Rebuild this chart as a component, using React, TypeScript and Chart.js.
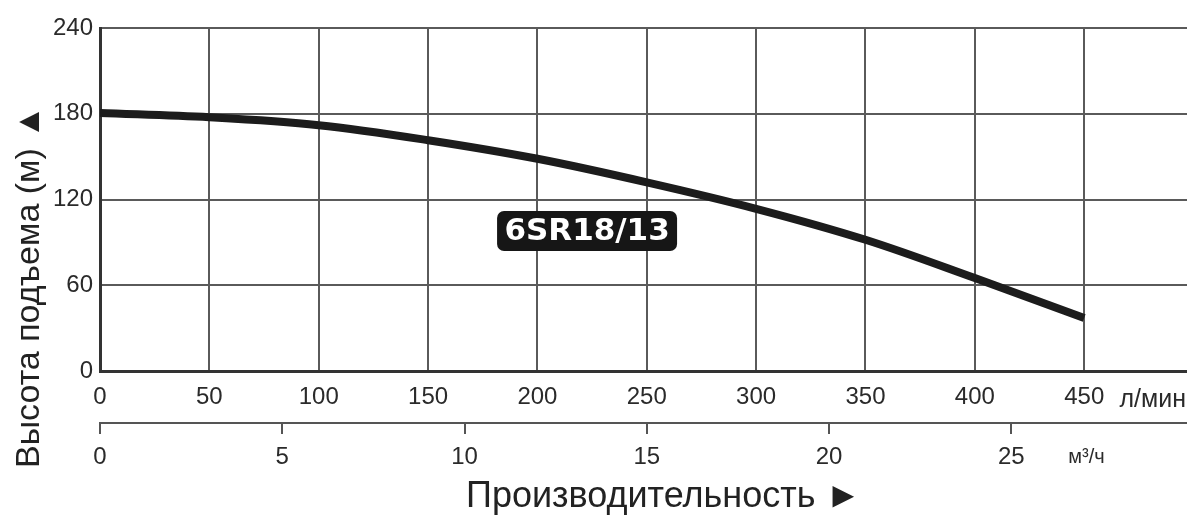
import React, { useEffect, useRef } from "react";
import { Chart, registerables } from "chart.js";

Chart.register(...registerables);

// ---- data ----
const FLOW_LPM = [0, 50, 100, 150, 200, 250, 300, 350, 400, 450];
const HEAD_M = [180.5, 177.5, 172, 161.5, 148.5, 132, 113.5, 91.8, 65, 37];
const Y_TICKS = [0, 60, 120, 180, 240];
const LPM_TICKS = [0, 50, 100, 150, 200, 250, 300, 350, 400, 450];
const M3H_TICKS = [0, 5, 10, 15, 20, 25];
const MODEL = "6SR18/13";
const Y_TITLE = "Высота подъема (м) ▲";
const X_TITLE = "Производительность ►";
const LPM_UNIT = "л/мин";
const M3H_UNIT = "м³/ч";

const X_MAX = 497; // l/min at right edge
const LPM_PER_M3H = 1000 / 60;
const LABEL_X = 222.7;
const LABEL_Y = 98;

const FONT = '"Liberation Sans", Arial, sans-serif';

const overlay = {
  id: "overlay",
  afterDraw(chart: any) {
    const { ctx, scales } = chart;
    const x = scales.x;
    const y = scales.y;
    const x2 = scales.x2;
    ctx.save();
    // model label
    const cx = x.getPixelForValue(LABEL_X);
    const cy = y.getPixelForValue(LABEL_Y);
    ctx.fillStyle = "#161616";
    ctx.beginPath();
    (ctx as any).roundRect(cx - 90, cy - 20, 180, 40, 7);
    ctx.fill();
    ctx.fillStyle = "#ffffff";
    ctx.font = 'bold 31px "DejaVu Sans", sans-serif';
    ctx.textAlign = "center";
    ctx.textBaseline = "middle";
    ctx.fillText(MODEL, cx, cy + 1);

    // units
    ctx.fillStyle = "#2a2a2a";
    ctx.textBaseline = "alphabetic";
    ctx.textAlign = "right";
    ctx.font = "25px " + FONT;
    ctx.fillText(LPM_UNIT, chart.width - 1, x.top + 36);
    ctx.textAlign = "left";
    ctx.font = "20px " + FONT;
    ctx.fillText(M3H_UNIT, x2.getPixelForValue(25) + 57, x2.top + 40);

    // x title
    ctx.font = "36px " + FONT;
    ctx.fillStyle = "#222";
    ctx.fillText(X_TITLE, 466, 507);

    // y title
    ctx.font = "34px " + FONT;
    ctx.translate(39, 468);
    ctx.rotate(-Math.PI / 2);
    ctx.fillText(Y_TITLE, 0, 0);
    ctx.restore();
  },
};

export default function App() {
  const ref = useRef<HTMLCanvasElement | null>(null);
  useEffect(() => {
    if (!ref.current) return;
    const chart = new Chart(ref.current, {
      type: "line",
      data: {
        datasets: [
          {
            data: FLOW_LPM.map((v, i) => ({ x: v, y: HEAD_M[i] })),
            borderColor: "#1c1c1c",
            borderWidth: 8,
            borderCapStyle: "butt",
            pointRadius: 0,
            tension: 0.35,
            fill: false,
          },
        ],
      },
      options: {
        responsive: false,
        animation: false,
        devicePixelRatio: 1,
        layout: { padding: { top: 28, left: 0, right: 0, bottom: 0 } },
        plugins: { legend: { display: false }, tooltip: { enabled: false } },
        scales: {
          x: {
            type: "linear",
            position: "bottom",
            weight: 0,
            min: 0,
            max: X_MAX,
            afterBuildTicks: (s: any) => {
              s.ticks = LPM_TICKS.map((v) => ({ value: v }));
            },
            afterFit: (s: any) => {
              s.height = 52;
            },
            grid: { color: "#5a5a5a", lineWidth: 2, drawTicks: false },
            border: { color: "#333", width: 3 },
            ticks: {
              font: { family: FONT, size: 24 },
              color: "#2a2a2a",
              padding: 12,
              maxRotation: 0,
              autoSkip: false,
            },
          },
          x2: {
            type: "linear",
            position: "bottom",
            weight: 1,
            min: 0,
            max: X_MAX / LPM_PER_M3H,
            afterBuildTicks: (s: any) => {
              s.ticks = M3H_TICKS.map((v) => ({ value: v }));
            },
            afterFit: (s: any) => {
              s.height = 93;
            },
            grid: {
              drawOnChartArea: false,
              drawTicks: true,
              tickLength: 11,
              color: "#555",
              lineWidth: 2,
            },
            border: { display: true, color: "#555", width: 2 },
            ticks: {
              font: { family: FONT, size: 24 },
              color: "#2a2a2a",
              padding: 9,
              maxRotation: 0,
              autoSkip: false,
            },
          },
          y: {
            type: "linear",
            min: 0,
            max: 240,
            afterBuildTicks: (s: any) => {
              s.ticks = Y_TICKS.map((v) => ({ value: v }));
            },
            afterFit: (s: any) => {
              s.width = 100;
            },
            grid: { color: "#5a5a5a", lineWidth: 2, drawTicks: false },
            border: { color: "#333", width: 3 },
            ticks: {
              font: { family: FONT, size: 24 },
              color: "#2a2a2a",
              padding: 7,
            },
          },
        },
      } as any,
      plugins: [overlay],
    });
    return () => chart.destroy();
  }, []);
  return (
    <div style={{ position: "absolute", left: 0, top: 0, width: 1187, height: 516, background: "#fff" }}>
      <canvas ref={ref} width={1187} height={516} style={{ display: "block" }} />
    </div>
  );
}
